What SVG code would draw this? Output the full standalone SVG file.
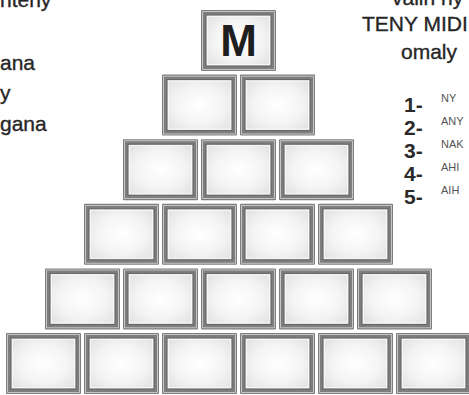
<svg xmlns="http://www.w3.org/2000/svg" xmlns:xlink="http://www.w3.org/1999/xlink" width="469" height="395" viewBox="0 0 469 395">
<style>
.t{font-family:"Liberation Sans",Arial,sans-serif;fill:#262626;stroke:#262626;stroke-width:0.35;font-size:21px}
.n{font-family:"Liberation Sans",Arial,sans-serif;fill:#2a2a2a;font-size:21px;font-weight:bold}
.s{font-family:"Liberation Sans",Arial,sans-serif;fill:#555;font-size:11px}
.m{font-family:"Liberation Sans",Arial,sans-serif;fill:#1e1e1e;font-size:44px;font-weight:bold;text-anchor:middle}
</style>
<defs>
<radialGradient id="g" cx="50%" cy="50%" r="62%">
<stop offset="0" stop-color="#ffffff"/>
<stop offset="0.6" stop-color="#f4f4f4"/>
<stop offset="1" stop-color="#e4e4e4"/>
</radialGradient>
<g id="box">
<rect x="0" y="0" width="75" height="61" rx="1" fill="#7e7e7e"/>
<rect x="1.6" y="1.6" width="71.8" height="57.8" fill="none" stroke="#d6d6d6" stroke-width="0.8"/>
<rect x="5" y="5" width="65" height="51" fill="url(#g)" stroke="#606060" stroke-width="1"/>
<rect x="6.5" y="6.5" width="62" height="48" fill="none" stroke="#fafafa" stroke-width="0.8"/>
</g>
</defs>
<rect width="469" height="395" fill="#fff"/>
<g id="left-text">
<text class="t" x="0" y="7">nteny</text>
<text class="t" x="0" y="70">ana</text>
<text class="t" x="0" y="100">y</text>
<text class="t" x="0" y="131">gana</text>
</g>
<g id="right-text">
<text class="t" x="392" y="5">valin ny</text>
<text class="t" x="362" y="31">TENY MIDI</text>
<text class="t" x="401" y="59">omaly</text>
<text class="n" x="404" y="112">1-</text>
<text class="n" x="404" y="135">2-</text>
<text class="n" x="404" y="158">3-</text>
<text class="n" x="404" y="181">4-</text>
<text class="n" x="404" y="204">5-</text>
<text class="s" x="441" y="102">NY</text>
<text class="s" x="441" y="125">ANY</text>
<text class="s" x="441" y="148">NAK</text>
<text class="s" x="441" y="171">AHI</text>
<text class="s" x="441" y="194">AIH</text>
</g>
<g id="connectors"/>
<g id="r0c0"><use xlink:href="#box" x="201" y="10"/><text class="m" x="238.5" y="56">M</text></g>
<g id="r1c0"><use xlink:href="#box" x="162" y="74.6"/></g>
<g id="r1c1"><use xlink:href="#box" x="240" y="74.6"/></g>
<g id="r2c0"><use xlink:href="#box" x="123" y="139.2"/></g>
<g id="r2c1"><use xlink:href="#box" x="201" y="139.2"/></g>
<g id="r2c2"><use xlink:href="#box" x="279" y="139.2"/></g>
<g id="r3c0"><use xlink:href="#box" x="84" y="203.8"/></g>
<g id="r3c1"><use xlink:href="#box" x="162" y="203.8"/></g>
<g id="r3c2"><use xlink:href="#box" x="240" y="203.8"/></g>
<g id="r3c3"><use xlink:href="#box" x="318" y="203.8"/></g>
<g id="r4c0"><use xlink:href="#box" x="45" y="268.4"/></g>
<g id="r4c1"><use xlink:href="#box" x="123" y="268.4"/></g>
<g id="r4c2"><use xlink:href="#box" x="201" y="268.4"/></g>
<g id="r4c3"><use xlink:href="#box" x="279" y="268.4"/></g>
<g id="r4c4"><use xlink:href="#box" x="357" y="268.4"/></g>
<g id="r5c0"><use xlink:href="#box" x="6" y="333"/></g>
<g id="r5c1"><use xlink:href="#box" x="84" y="333"/></g>
<g id="r5c2"><use xlink:href="#box" x="162" y="333"/></g>
<g id="r5c3"><use xlink:href="#box" x="240" y="333"/></g>
<g id="r5c4"><use xlink:href="#box" x="318" y="333"/></g>
<g id="r5c5"><use xlink:href="#box" x="396" y="333"/></g>
</svg>
